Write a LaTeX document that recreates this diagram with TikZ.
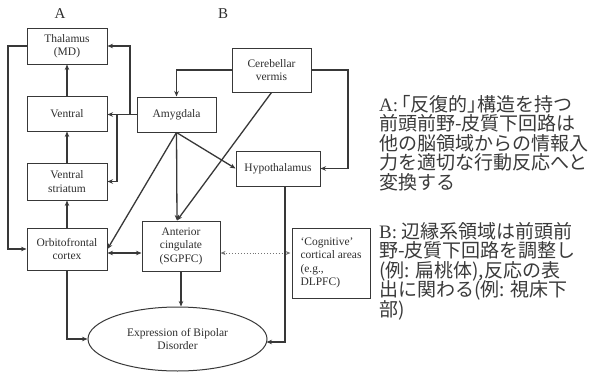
\documentclass[tikz,border=0pt]{standalone}
\usepackage{fontspec}
\setmainfont{Liberation Serif}
\newfontfamily\cjk{Noto Sans CJK JP}
\usetikzlibrary{arrows.meta,shapes.geometric,calc}
\definecolor{ink}{HTML}{383838}
\definecolor{txt}{HTML}{2E2E2E}
\definecolor{jtxt}{HTML}{3A3A3A}
\newcommand{\lat}[1]{{\rmfamily\fontsize{19}{18}\selectfont #1}}
\tikzset{
  box/.style={draw=ink, line width=1pt, rectangle, inner sep=1pt, align=center,
    font=\fontsize{11.5}{13.5}\selectfont, text=txt},
  arr/.style={draw=ink, line width=1.3pt, -{Stealth[length=5.5pt,width=4.5pt]}},
  darr/.style={draw=ink, line width=1.3pt, {Stealth[length=5.5pt,width=4.5pt]}-{Stealth[length=5.5pt,width=4.5pt]}},
  dotarr/.style={draw=ink!70, line width=0.9pt, dotted, {Stealth[length=5pt,width=4pt]}-{Stealth[length=5pt,width=4pt]}},
  jp/.style={anchor=base west, inner sep=0pt, text height=14pt, text depth=3pt,
    font=\cjk\fontsize{19}{19}\selectfont, text=jtxt},
  lab/.style={font=\fontsize{15}{15}\selectfont, text=txt, inner sep=0pt}
}
\begin{document}
\begin{tikzpicture}[x=1pt,y=-1pt]
\useasboundingbox (0,0) rectangle (589,372);
\fill[white] (0,0) rectangle (589,372);

\node[lab] (la) at (60,14) {A};
\node[lab] (lb) at (223,14) {B};

\node[box, minimum width=80pt, minimum height=36pt] (thal) at (67,46) {Thalamus\\(MD)};
\node[box, minimum width=80pt, minimum height=35pt] (ven) at (67,113.5) {Ventral};
\node[box, minimum width=80pt, minimum height=37pt] (vst) at (67,181.5) {Ventral\\striatum};
\node[box, minimum width=80pt, minimum height=42pt] (ofc) at (67,249) {Orbitofrontal\\cortex};
\node[box, minimum width=79pt, minimum height=35pt] (amy) at (176.5,114.5) {Amygdala};
\node[box, minimum width=79pt, minimum height=44pt] (cer) at (271.5,70) {Cerebellar\\vermis};
\node[box, minimum width=84pt, minimum height=35pt] (hyp) at (278,168.5) {Hypothalamus};
\node[box, minimum width=78pt, minimum height=50pt] (ac) at (181,246) {Anterior\\cingulate\\(SGPFC)};
\node[box, minimum width=78pt, minimum height=70pt, align=left] (cog) at (331,263) {`Cognitive'\\cortical areas\\(e.g.,\\DLPFC)};
\node[draw=ink, line width=1pt, ellipse, minimum width=179pt, minimum height=64pt, inner sep=0pt,
  align=center, font=\fontsize{11.5}{13.5}\selectfont, text=txt] (ell) at (177.5,339) {Expression of Bipolar\\Disorder};

% left loop
\coordinate (lx) at (8,46);
\draw[arr] (thal.west) -- (lx) |- (ofc.west);
% A column
\draw[arr] (ven.north) -- (thal.south);
\draw[arr] (vst.north) -- (ven.south);
\draw[arr] (ofc.north) -- (vst.south);
% amygdala to A
\coordinate (j1) at (130,114.5);
\coordinate (j2) at (117,114.5);
\draw[arr] (amy.west) -- (j1) |- (thal.east);
\draw[arr] (amy.west) -- (amy.west -| ven.east);
\draw[arr] (j2) |- (vst.east);
% cerebellar
\draw[arr] (cer.west) -| (amy.north);
\coordinate (cx) at (348,70);
\draw[arr] (cer.east) -- (cx) |- (hyp.east);
\coordinate (acin) at ($(ac.north)+(-4,0)$);
\draw[arr] (cer.south) -- (acin);
% amygdala outputs
\draw[arr] (amy.south) -- (acin);
\draw[arr] (amy.south) -- (hyp.west);
\draw[arr] (amy.south) -- (ofc.east);
% ofc <-> ac
\coordinate (oe) at ($(ofc.east)+(0,4)$);
\draw[darr] (oe) -- (oe -| ac.west);
% dotted
\coordinate (ae) at ($(ac.east)+(0,7)$);
\draw[dotarr] (ae) -- ($(ae -| cog.west)+(-1,0)$);
% to ellipse
\draw[arr] (ac.south) -- (ac.south |- ell.north);
\draw[arr] (ofc.south) |- (ell.west);
\coordinate (hs) at ($(hyp.south)+(7,0)$);
\draw[arr] (hs) |- ($(ell.east)+(-1,3)$);

% Japanese text
\node[jp] (a1) at (379,111) {\lat{A:}\hspace{3pt}｢反復的｣構造を持つ};
\node[jp] (a2) at (379,130.5) {前頭前野-皮質下回路は};
\node[jp] (a3) at (379,150) {他の脳領域からの情報入};
\node[jp] (a4) at (379,169.5) {力を適切な行動反応へと};
\node[jp] (a5) at (379,189) {変換する};
\node[jp] (b1) at (379,238) {\lat{B:} 辺縁系領域は前頭前};
\node[jp] (b2) at (379,257.5) {野-皮質下回路を調整し};
\node[jp] (b3) at (379,277) {(例: 扁桃体),反応の表};
\node[jp] (b4) at (379,296.5) {出に関わる(例: 視床下};
\node[jp] (b5) at (379,316) {部)};
\end{tikzpicture}
\end{document}
